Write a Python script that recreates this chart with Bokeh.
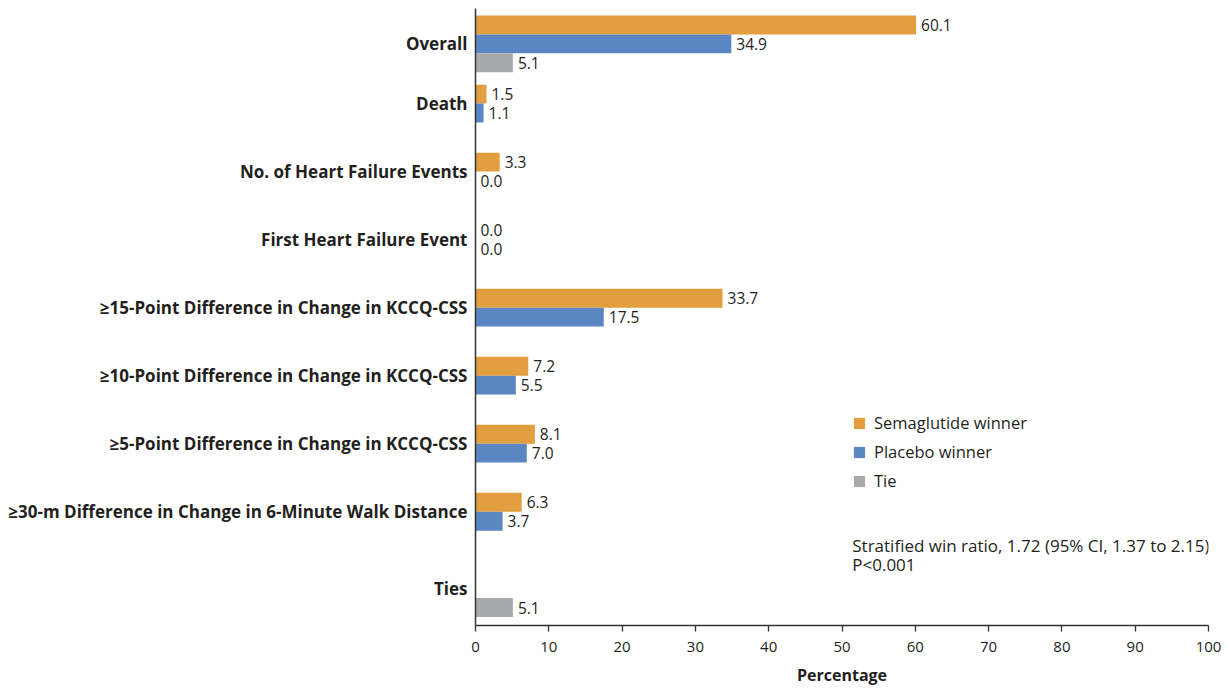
from bokeh.plotting import figure
from bokeh.models import ColumnDataSource, Range1d, FixedTicker, Legend, LegendItem, Label
from bokeh.embed import file_html
from bokeh.resources import INLINE
from bokeh.core.properties import value

# ---------------- data ----------------
categories = [
    "Overall",
    "Death",
    "No. of Heart Failure Events",
    "First Heart Failure Event",
    "≥15-Point Difference in Change in KCCQ-CSS",
    "≥10-Point Difference in Change in KCCQ-CSS",
    "≥5-Point Difference in Change in KCCQ-CSS",
    "≥30-m Difference in Change in 6-Minute Walk Distance",
    "Ties",
]
semaglutide = [60.1, 1.5, 3.3, 0.0, 33.7, 7.2, 8.1, 6.3, None]
placebo = [34.9, 1.1, 0.0, 0.0, 17.5, 5.5, 7.0, 3.7, None]
tie = [5.1, None, None, None, None, None, None, None, 5.1]
series_names = ["Semaglutide winner", "Placebo winner", "Tie"]
x_ticks = list(range(0, 101, 10))
x_title = "Percentage"
note_lines = ["Stratified win ratio, 1.72 (95% CI, 1.37 to 2.15)", "P<0.001"]

# ---------------- layout / style ----------------
colors = ["#E39E3F", "#5B86C4", "#A8A9AD"]
TXT = "#231F20"
FONT = "Open Sans"
lead = 0.37
gaps = [0.66, 1.6, 1.6, 1.6, 1.6, 1.6, 1.6, 1.57]
y_total = 32.65

starts, nslots = [], []
pos = lead
for i, c in enumerate(categories):
    if i > 0:
        pos += gaps[i - 1]
    n = 3 if tie[i] is not None else 2
    starts.append(pos)
    nslots.append(n)
    pos += n
label_pos = [s + n / 2 for s, n in zip(starts, nslots)]

p = figure(width=1229, height=689, output_backend="svg", toolbar_location=None,
           x_range=Range1d(0, 100), y_range=Range1d(y_total, 0),
           min_border_left=475, min_border_right=21, min_border_top=8, min_border_bottom=64)
p.outline_line_color = None
p.grid.grid_line_color = None
p.background_fill_color = "white"

renderers = []
all_series = [semaglutide, placebo, tie]
for k, vals in enumerate(all_series):
    ys, xs, txt = [], [], []
    for i, v in enumerate(vals):
        if v is None:
            continue
        ys.append(starts[i] + k + 0.5)
        xs.append(v)
        txt.append(f"{v:.1f}")
    src = ColumnDataSource(dict(y=ys, right=xs, label=txt))
    r = p.hbar(y="y", left=0, right="right", height=1.0, source=src,
               fill_color=colors[k], line_color=None)
    renderers.append(r)
    p.text(x="right", y="y", text="label", source=src, x_offset=5,
           text_baseline="middle", text_align="left",
           text_font=value(FONT), text_font_size="15.5px", text_color=TXT)

# axes
xa = p.xaxis[0]
xa.ticker = FixedTicker(ticks=x_ticks)
xa.minor_tick_line_color = None
xa.major_tick_in = 0
xa.major_tick_out = 6
xa.axis_line_width = 1.5
xa.axis_line_color = "#333333"
xa.major_tick_line_color = "#333333"
xa.major_tick_line_width = 1.3
xa.major_label_text_font = FONT
xa.major_label_text_font_size = "15px"
xa.major_label_text_color = TXT
xa.major_label_standoff = 10
xa.axis_label = x_title
xa.axis_label_text_font = FONT
xa.axis_label_text_font_style = "bold"
xa.axis_label_text_font_size = "16px"
xa.axis_label_text_color = TXT
xa.axis_label_standoff = 9

ya = p.yaxis[0]
ya.ticker = FixedTicker(ticks=label_pos)
ya.major_label_overrides = {lp: c for lp, c in zip(label_pos, categories)}
ya.minor_tick_line_color = None
ya.major_tick_line_color = None
ya.major_tick_in = 0
ya.major_tick_out = 0
ya.axis_line_width = 1.5
ya.axis_line_color = "#333333"
ya.major_label_text_font = FONT
ya.major_label_text_font_style = "bold"
ya.major_label_text_font_size = "17px"
ya.major_label_text_color = TXT
ya.major_label_standoff = 8

legend = Legend(items=[LegendItem(label=series_names[k], renderers=[renderers[k]]) for k in range(3)],
                location=(377, 133), orientation="vertical",
                glyph_width=14, glyph_height=14, label_height=14, spacing=6,
                label_standoff=8, padding=0, margin=0,
                border_line_color=None, background_fill_alpha=0,
                label_text_font=FONT, label_text_font_size="16.5px", label_text_color=TXT)
p.add_layout(legend)

for j, line in enumerate(note_lines):
    p.add_layout(Label(x=51.4, y=28.4 + j * 1.0, text=line, text_baseline="middle",
                       text_font=FONT, text_font_size="17px", text_color=TXT))

open("out.html", "w").write(file_html(p, INLINE))
